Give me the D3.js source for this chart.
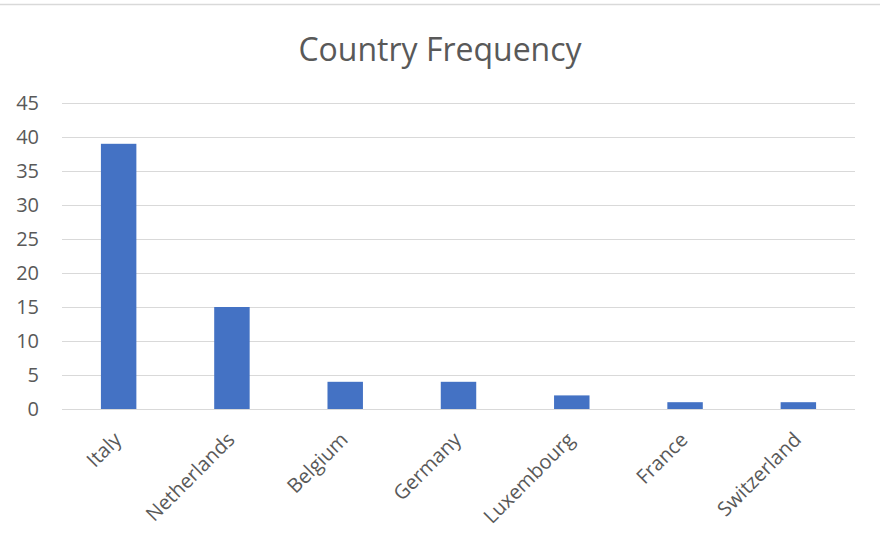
<!DOCTYPE html>
<html>
<head>
<meta charset="utf-8">
<script src="https://cdn.jsdelivr.net/npm/d3@7"></script>
<style>
  body { margin: 0; background: #fff; }
  svg { display: block; }
</style>
</head>
<body>
<div id="chart"></div>
<script>
const countries = ["Italy", "Netherlands", "Belgium", "Germany", "Luxembourg", "France", "Switzerland"];
const counts = [39, 15, 4, 4, 2, 1, 1];
const yTicks = [0, 5, 10, 15, 20, 25, 30, 35, 40, 45];

const width = 880, height = 546;
const margin = { top: 103, right: 25, bottom: 137, left: 62 };
const font = "'Open Sans', Calibri, sans-serif";

const svg = d3.select("#chart")
    .append("svg")
    .attr("width", width)
    .attr("height", height);

// faint chart border along top
svg.append("line")
    .attr("x1", 0).attr("x2", width)
    .attr("y1", 4.5).attr("y2", 4.5)
    .attr("stroke", "#d9d9d9")
    .attr("stroke-width", 1.5);

const x = d3.scaleBand()
    .domain(countries)
    .range([margin.left, width - margin.right])
    .paddingInner(0.687)
    .paddingOuter(0.3435);

const y = d3.scaleLinear()
    .domain([0, 45])
    .range([height - margin.bottom, margin.top]);

// gridlines
svg.append("g")
    .selectAll("line")
    .data(yTicks)
    .join("line")
    .attr("x1", margin.left)
    .attr("x2", width - margin.right)
    .attr("y1", d => Math.round(y(d)) + 0.5)
    .attr("y2", d => Math.round(y(d)) + 0.5)
    .attr("stroke", "#d9d9d9")
    .attr("stroke-width", 1);

// y axis labels
const yAxis = d3.axisLeft(y).tickValues(yTicks).tickSize(0).tickPadding(0);
svg.append("g")
    .attr("transform", `translate(39,0)`)
    .call(yAxis)
    .call(g => g.select(".domain").remove())
    .selectAll("text")
    .attr("font-family", font)
    .attr("font-size", 20)
    .attr("fill", "#595959");

// bars
svg.append("g")
    .selectAll("rect")
    .data(countries.map((c, i) => ({ country: c, count: counts[i] })))
    .join("rect")
    .attr("x", d => x(d.country))
    .attr("y", d => y(d.count))
    .attr("width", x.bandwidth())
    .attr("height", d => y(0) - y(d.count))
    .attr("fill", "#4472C4");

// x labels, rotated
svg.append("g")
    .selectAll("text")
    .data(countries)
    .join("text")
    .attr("transform", d => `translate(${x(d) + x.bandwidth() / 2 - 1},${y(0) + 27}) rotate(-45)`)
    .attr("text-anchor", "end")
    .attr("dy", "0.35em")
    .attr("font-family", font)
    .attr("font-size", 20)
    .attr("fill", "#595959")
    .text(d => d);

// title
svg.append("text")
    .attr("x", 440)
    .attr("y", 61)
    .attr("text-anchor", "middle")
    .attr("font-family", font)
    .attr("font-size", 32)
    .attr("fill", "#595959")
    .text("Country Frequency");
</script>
</body>
</html>
